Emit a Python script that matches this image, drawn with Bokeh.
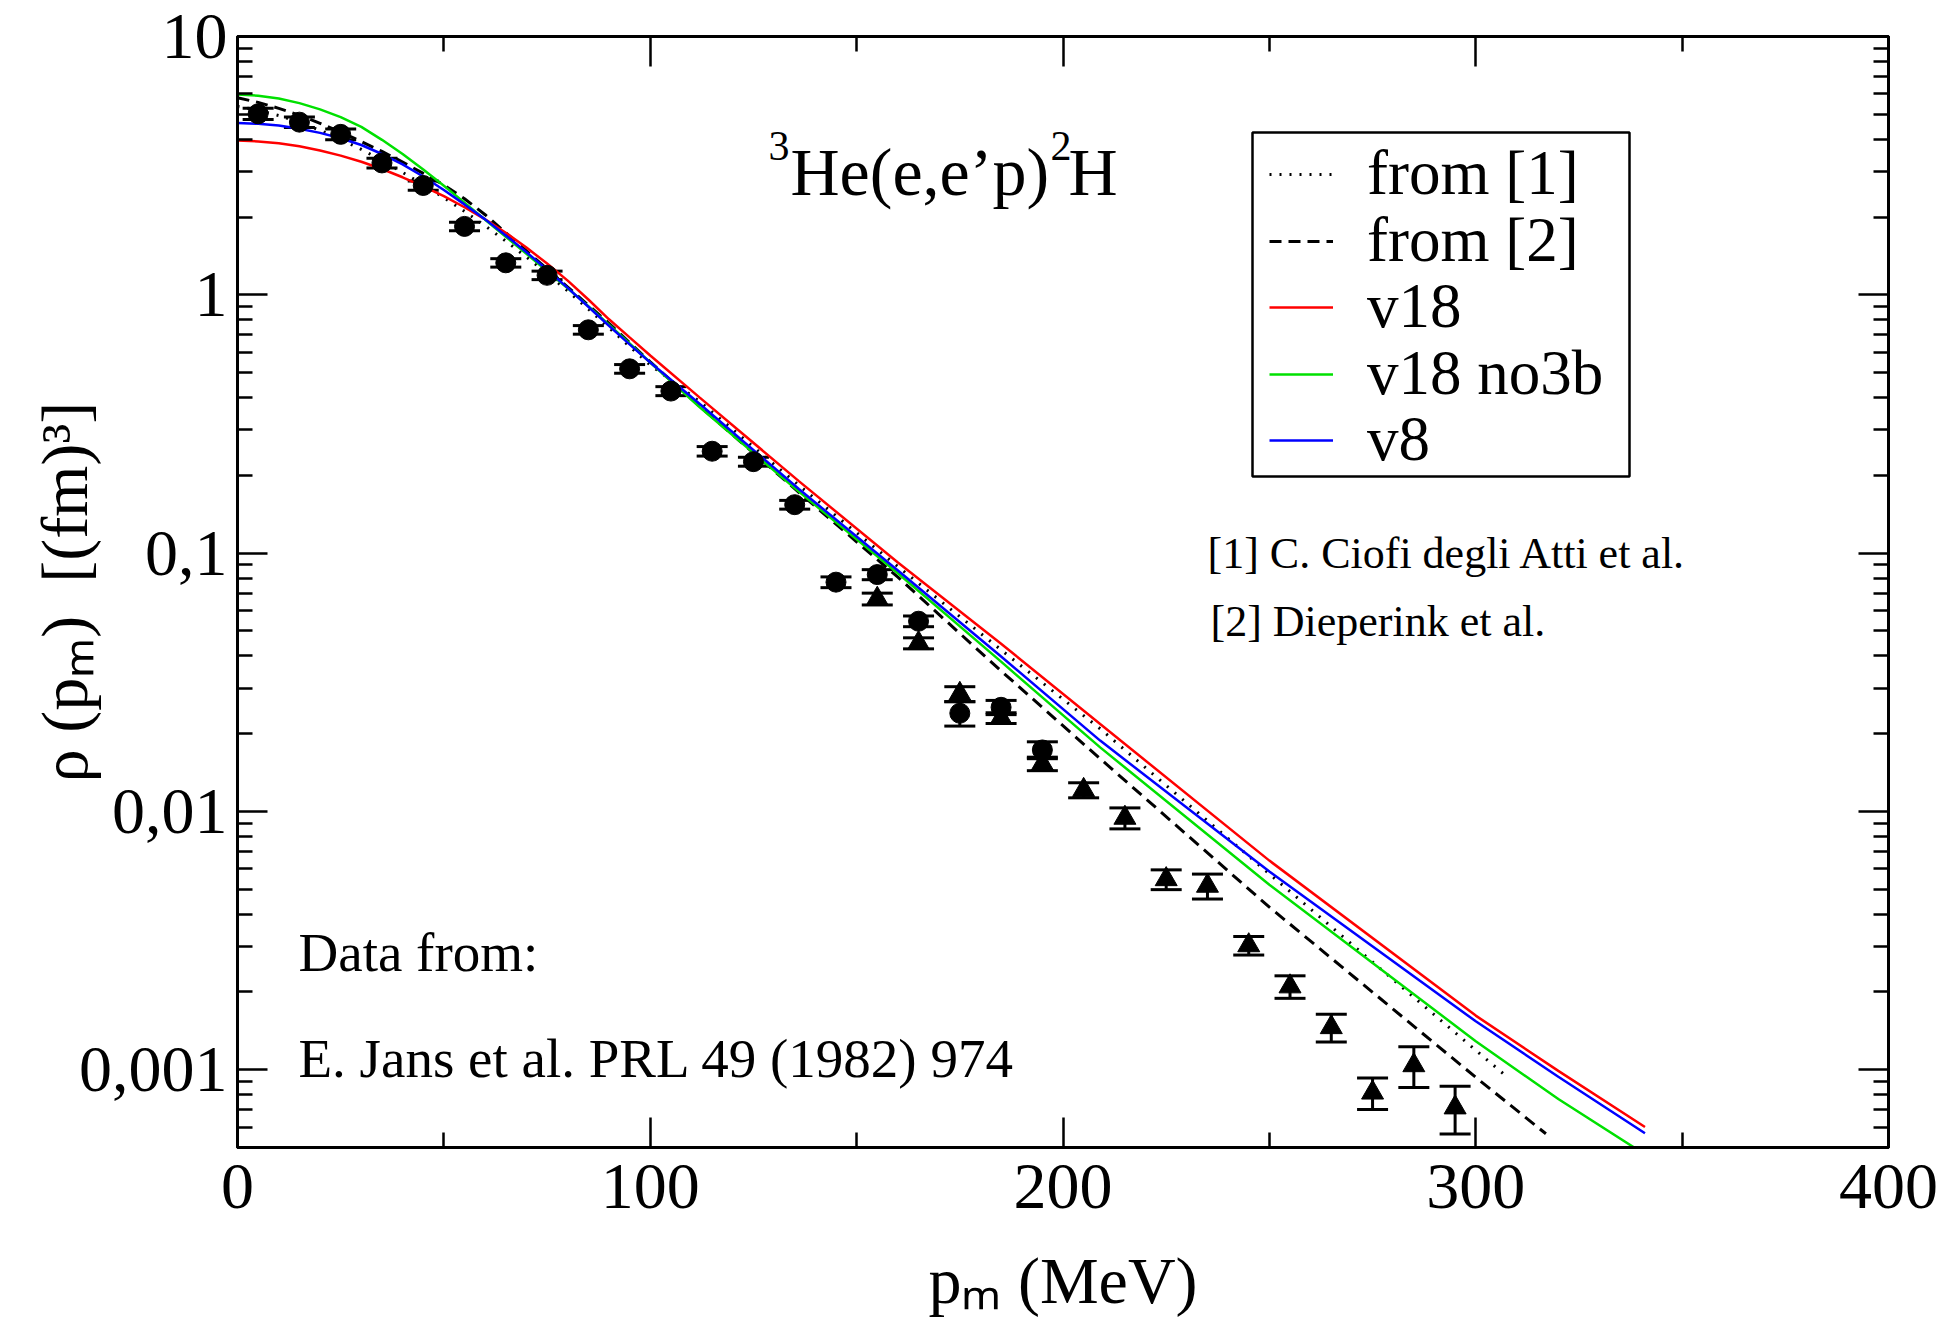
from bokeh.plotting import figure
from bokeh.models import (FixedTicker, LinearAxis, LogAxis, Label, Legend, LegendItem,
                          Whisker, TeeHead, ColumnDataSource, BoxAnnotation)
from bokeh.embed import file_html
from bokeh.resources import INLINE

# ---------------- data ----------------
circ_x = [5, 15, 25, 35, 45, 55, 65, 75, 85, 95, 105, 115, 125, 135, 145, 155, 165, 175, 185, 195]
circ_y = [5.02, 4.66, 4.18, 3.24, 2.65, 1.84, 1.33, 1.19, 0.732, 0.517, 0.424, 0.248, 0.226, 0.154,
          0.0772, 0.0826, 0.0545, 0.0240, 0.0253, 0.0173]
circ_err = [0.25, 0.22, 0.20, 0.14, 0.11, 0.07, 0.05, 0.045, 0.028, 0.020, 0.017, 0.0105, 0.009, 0.006,
            0.0037, 0.0037, 0.0026, 0.0026, 0.0016, 0.0013]

tri_x = [155, 165, 175, 185, 195, 205, 215, 225, 235, 245, 255, 265, 275, 285, 295]
tri_y = [0.0665, 0.0448, 0.0285, 0.0230, 0.0153, 0.0121, 0.00944, 0.00546, 0.00515, 0.00303,
         0.0021, 0.00146, 0.000815, 0.00104, 0.000714]
tri_err = [0.0035, 0.0022, 0.0019, 0.0011, 0.00092, 0.00081, 0.00088, 0.00048, 0.00057, 0.00025,
           0.00021, 0.00018, 0.000114, 0.000187, 0.00015]

curve_x = [0, 5, 10, 15, 20, 25, 30, 35, 40, 45, 50, 55, 60, 65, 70, 75, 80, 85, 90, 95, 100,
           112, 136, 160, 185, 209, 250, 300, 320, 341]

v18_y = [3.954, 3.926, 3.864, 3.758, 3.622, 3.459, 3.273, 3.069, 2.851, 2.630, 2.410, 2.183, 1.959,
         1.738, 1.524, 1.321, 1.135, 0.959, 0.804, 0.684, 0.582,
         0.40, 0.19, 0.092, 0.0446, 0.0218, 0.00645, 0.00162, 0.00099, 0.00060]

v8_y = [4.624, 4.592, 4.519, 4.395, 4.236, 4.036, 3.802, 3.508, 3.199, 2.871, 2.547, 2.239, 1.959,
        1.698, 1.462, 1.250, 1.064, 0.899, 0.759, 0.643, 0.547,
        0.378, 0.177, 0.0857, 0.0398, 0.0188, 0.00585, 0.00154, 0.00094, 0.000568]

no3b_y = [5.957, 5.902, 5.754, 5.521, 5.224, 4.875, 4.467, 3.981, 3.508, 3.055, 2.642, 2.275, 1.954,
          1.679, 1.442, 1.236, 1.059, 0.904, 0.767, 0.649, 0.547,
          0.367, 0.173, 0.0836, 0.038, 0.0177, 0.0052, 0.00129, 0.00077, 0.00047]

ref_x = [0, 5, 10, 15, 20, 25, 30, 35, 40, 45, 50, 55, 60, 65, 70, 75, 80, 85, 90, 95, 100,
         112, 136, 160, 185, 209, 250, 300]
ref2_y = [5.794, 5.559, 5.272, 4.955, 4.613, 4.266, 3.917, 3.589, 3.266, 2.951, 2.661, 2.355, 2.042,
          1.738, 1.479, 1.259, 1.072, 0.912, 0.776, 0.653, 0.550,
          0.37, 0.172, 0.0807, 0.035, 0.016, 0.00426, 0.000935]
ref2_end = (317, 0.000565)
ref1_y = [5.358, 5.188, 4.943, 4.656, 4.335, 3.999, 3.656, 3.311, 2.979, 2.667, 2.377, 2.104, 1.849,
          1.614, 1.400, 1.208, 1.035, 0.881, 0.746, 0.631, 0.535,
          0.386, 0.183, 0.0887, 0.0422, 0.0209, 0.00573, 0.00119]
ref1_end = (308, 0.000927)

series_labels = ["from [1]", "from [2]", "v18", "v18 no3b", "v8"]

x_ticks = [0, 100, 200, 300, 400]
x_minor = [50, 150, 250, 350]
y_ticks = [0.001, 0.01, 0.1, 1, 10]
y_tick_labels = ["0,001", "0,01", "0,1", "1", "10"]

FONT = "Liberation Serif"

# ---------------- figure ----------------
p = figure(width=1942, height=1330, x_range=(0, 400), y_range=(5e-4, 10), y_axis_type="log",
           output_backend="svg", toolbar_location=None,
           min_border_left=237, min_border_right=54, min_border_top=36, min_border_bottom=183)
p.background_fill_color = "white"
p.border_fill_color = "white"
p.xgrid.visible = False
p.ygrid.visible = False
p.outline_line_color = "black"
p.outline_line_width = 3

y_minor = [m * 10.0 ** k for k in range(-4, 1) for m in range(2, 10)]


def style_axis(ax, show):
    ax.axis_line_width = 3
    ax.axis_line_color = "black"
    ax.major_tick_in = 30
    ax.major_tick_out = 0
    ax.minor_tick_in = 15
    ax.minor_tick_out = 0
    ax.major_tick_line_width = 2.5
    ax.minor_tick_line_width = 2.5
    ax.major_tick_line_color = "black"
    ax.minor_tick_line_color = "black"
    ax.major_label_text_font = FONT
    ax.major_label_text_color = "black"
    ax.major_label_text_font_size = "66px" if show else "0px"
    ax.axis_label_text_font = FONT
    ax.axis_label_text_font_style = "normal"
    ax.axis_label_text_font_size = "66px"
    ax.axis_label_text_color = "black"


p.xaxis.ticker = FixedTicker(ticks=x_ticks, minor_ticks=x_minor)
p.yaxis.ticker = FixedTicker(ticks=y_ticks, minor_ticks=y_minor)
style_axis(p.xaxis[0], True)
style_axis(p.yaxis[0], True)
p.xaxis.major_label_standoff = 17
p.yaxis.major_label_standoff = 10
p.yaxis.major_label_overrides = {t: s for t, s in zip(y_ticks, y_tick_labels)}
p.xaxis.axis_label = "p\u2098 (MeV)"
p.xaxis.axis_label_standoff = 33
p.yaxis.axis_label = "\u03c1 (p\u2098)\u00a0\u00a0[(fm)\u00b3]"
p.yaxis.axis_label_standoff = -25

top_ax = LinearAxis(ticker=FixedTicker(ticks=x_ticks, minor_ticks=x_minor))
style_axis(top_ax, False)
top_ax.major_label_overrides = {t: "" for t in x_ticks}
p.add_layout(top_ax, "above")
right_ax = LogAxis(ticker=FixedTicker(ticks=y_ticks, minor_ticks=y_minor))
style_axis(right_ax, False)
right_ax.major_label_overrides = {t: "" for t in y_ticks}
p.add_layout(right_ax, "right")

# ---------------- curves ----------------
r_ref1 = p.line(ref_x + [ref1_end[0]], ref1_y + [ref1_end[1]], line_color="black", line_width=3,
                line_dash="2 8")
r_ref2 = p.line(ref_x + [ref2_end[0]], ref2_y + [ref2_end[1]], line_color="black", line_width=3,
                line_dash="12 7")
r_v18 = p.line(curve_x, v18_y, line_color="#ff0000", line_width=2.5)
r_no3b = p.line(curve_x, no3b_y, line_color="#00e000", line_width=2.5)
r_v8 = p.line(curve_x, v8_y, line_color="#0000ff", line_width=2.5)

# ---------------- data points with error bars ----------------
csrc = ColumnDataSource(dict(x=circ_x, y=circ_y,
                             lo=[y - e for y, e in zip(circ_y, circ_err)],
                             hi=[y + e for y, e in zip(circ_y, circ_err)]))
tsrc = ColumnDataSource(dict(x=tri_x, y=tri_y,
                             lo=[y - e for y, e in zip(tri_y, tri_err)],
                             hi=[y + e for y, e in zip(tri_y, tri_err)]))
for src in (csrc, tsrc):
    p.add_layout(Whisker(source=src, base="x", lower="lo", upper="hi", dimension="height",
                         line_color="black", line_width=3,
                         lower_head=TeeHead(size=31, line_width=3, line_color="black"),
                         upper_head=TeeHead(size=31, line_width=3, line_color="black")))
p.scatter("x", "y", source=csrc, marker="circle", size=20, fill_color="black", line_color="black")
p.scatter("x", "y", source=tsrc, marker="triangle", size=22, fill_color="black", line_color="black")

# ---------------- legend (framed box + one row per series) ----------------
FL, FB = 237, 1147   # frame left / bottom in page pixels

p.add_layout(BoxAnnotation(left=1252 - FL, right=1629 - FL, top=FB - 132, bottom=FB - 476,
                           left_units="screen", right_units="screen",
                           top_units="screen", bottom_units="screen",
                           fill_color="white", fill_alpha=1.0,
                           line_color="black", line_width=2.5, line_alpha=1.0))

row_centers = [174, 241, 307, 374, 440]
for lbl, rend, yc in zip(series_labels, [r_ref1, r_ref2, r_v18, r_no3b, r_v8], row_centers):
    p.add_layout(Legend(items=[LegendItem(label=lbl, renderers=[rend])],
                        location=(1269 - FL, FB - yc - 36), orientation="vertical",
                        label_text_font=FONT, label_text_font_size="63px", label_text_color="black",
                        glyph_width=64, glyph_height=40, label_height=40, label_standoff=34,
                        spacing=0, padding=0, margin=0,
                        border_line_alpha=0.0, background_fill_alpha=0.0))

# ---------------- text annotations (screen px from frame bottom-left) ----------------


def lab(text, X, Y, size):
    p.add_layout(Label(x=X - FL, y=FB - Y, x_units="screen", y_units="screen", text=text,
                       text_font=FONT, text_font_size=f"{size}px", text_color="black",
                       text_align="left", text_baseline="alphabetic"))


# reaction title
lab("3", 768, 145, 42)
lab("He(e,e\u2019p)", 790, 171, 68)
lab("2", 1050, 145, 42)
lab("H", 1068, 171, 68)

# references
lab("[1] C. Ciofi degli Atti et al.", 1207, 553, 44)
lab("[2] Dieperink et al.", 1210, 621, 44)

# data source
lab("Data from:", 298, 952, 55)
lab("E. Jans et al. PRL 49 (1982) 974", 298, 1058, 55)

open("out.html", "w").write(file_html(p, INLINE))
